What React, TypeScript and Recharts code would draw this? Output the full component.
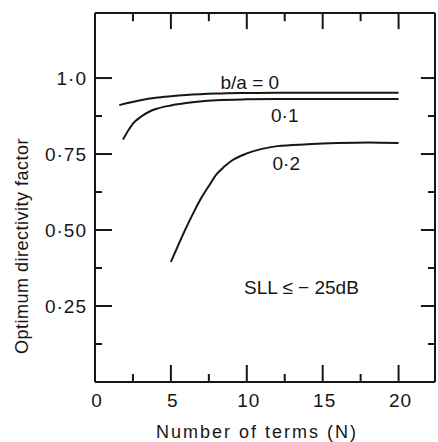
import { LineChart, Line, XAxis, YAxis, ReferenceDot, ReferenceLine } from 'recharts';

// b/a = 0
const N_BA0 = [1.6, 2, 3, 4, 5, 6, 8, 10, 12, 15, 20];
const D_BA0 = [0.911, 0.916, 0.927, 0.935, 0.94, 0.944, 0.949, 0.951, 0.952, 0.952, 0.952];

// b/a = 0.1
const N_BA1 = [1.85, 2.2, 2.5, 3, 3.6, 4, 5, 6, 8, 10, 12, 15, 20];
const D_BA1 = [0.798, 0.828, 0.85, 0.872, 0.89, 0.898, 0.91, 0.918, 0.927, 0.93, 0.931, 0.931, 0.931];

// b/a = 0.2
const N_BA2 = [5, 5.5, 6, 6.5, 7, 7.5, 8, 8.5, 9, 10, 11, 12, 14, 16, 18, 20];
const D_BA2 = [0.395, 0.452, 0.507, 0.558, 0.605, 0.645, 0.683, 0.708, 0.728, 0.752, 0.767, 0.776, 0.782, 0.786, 0.788, 0.786];

const X_TICKS = [0, 2.5, 5, 7.5, 10, 12.5, 15, 17.5, 20];
const X_MAJOR = [0, 5, 10, 15, 20];
const Y_TICKS = [0.125, 0.25, 0.375, 0.5, 0.625, 0.75, 0.875, 1];
const Y_MAJOR = [0.25, 0.5, 0.75, 1];
const Y_LABELS = ['0·25', '0·50', '0·75', '1·0'];

const CURVE_LABELS = [
  { n: 10.2, d: 0.987, text: 'b/a = 0' },
  { n: 12.5, d: 0.878, text: '0·1' },
  { n: 12.6, d: 0.72, text: '0·2' },
  { n: 13.6, d: 0.312, text: 'SLL ≤ − 25dB' },
];

const X_MAX = 22.4;
const Y_MAX = 1.214;

const toPoints = (xs: number[], ys: number[]) => xs.map((n, i) => ({ n, d: ys[i] }));

const INK = '#161616';
const FONT = '"Liberation Sans", Arial, sans-serif';

// mirrored tick lengths on the top/right frame, in data units (~16/8 px and ~14/7 px)
const TOP_MAJOR = 0.053;
const TOP_MINOR = 0.027;
const RIGHT_MAJOR = 0.93;
const RIGHT_MINOR = 0.46;

function BottomTick({ x, y, payload }: any) {
  const major = X_MAJOR.includes(payload.value);
  return (
    <g>
      <line x1={x} y1={y} x2={x} y2={y - (major ? 17 : 8)} stroke={INK} strokeWidth={2} />
      {major && (
        <text x={x + 2} y={y + 25} textAnchor="middle" fontSize={19} fontFamily={FONT} fill={INK} letterSpacing={1}>
          {payload.value}
        </text>
      )}
    </g>
  );
}

function LeftTick({ x, y, payload }: any) {
  const idx = Y_MAJOR.indexOf(payload.value);
  const major = idx >= 0;
  return (
    <g>
      <line x1={x} y1={y} x2={x + (major ? 17 : 7)} y2={y} stroke={INK} strokeWidth={2} />
      {major && (
        <text x={x - 8} y={y + 7} textAnchor="end" fontSize={19} fontFamily={FONT} fill={INK} letterSpacing={1}>
          {Y_LABELS[idx]}
        </text>
      )}
    </g>
  );
}

export default function App() {
  return (
    <div style={{ position: 'absolute', left: 0, top: 0, background: '#fff' }}>
      <LineChart width={438} height={442} margin={{ top: 13, right: 3, bottom: 0, left: 0 }}>
        <XAxis
          xAxisId="b"
          dataKey="n"
          type="number"
          domain={[0, X_MAX]}
          ticks={X_TICKS}
          interval={0}
          tickSize={0}
          tickMargin={0}
          height={60}
          tickLine={false}
          axisLine={{ stroke: INK, strokeWidth: 2 }}
          tick={<BottomTick />}
          allowDataOverflow
          label={{
            content: () => (
              <text x={257} y={438} textAnchor="middle" fontSize={18} fontFamily={FONT} fill={INK} letterSpacing={2}>
                Number of terms (N)
              </text>
            ),
          }}
        />
        <YAxis
          yAxisId="l"
          type="number"
          domain={[0, Y_MAX]}
          ticks={Y_TICKS}
          interval={0}
          tickSize={0}
          tickMargin={0}
          width={95}
          tickLine={false}
          axisLine={{ stroke: INK, strokeWidth: 2 }}
          tick={<LeftTick />}
          allowDataOverflow
          label={{
            content: () => (
              <text
                x={22}
                y={246}
                transform="rotate(-90 22 246)"
                textAnchor="middle"
                dominantBaseline="central"
                fontSize={18}
                fontFamily={FONT}
                fill={INK}
                letterSpacing={0.5}
              >
                Optimum directivity factor
              </text>
            ),
          }}
        />

        {/* top and right frame */}
        <ReferenceLine xAxisId="b" yAxisId="l" y={Y_MAX} stroke={INK} strokeWidth={2} ifOverflow="visible" />
        <ReferenceLine xAxisId="b" yAxisId="l" x={X_MAX} stroke={INK} strokeWidth={2} ifOverflow="visible" />

        {X_TICKS.filter((t) => t > 0).map((t) => (
          <ReferenceLine
            key={`tx${t}`}
            xAxisId="b"
            yAxisId="l"
            segment={[
              { x: t, y: Y_MAX },
              { x: t, y: Y_MAX - (X_MAJOR.includes(t) ? TOP_MAJOR : TOP_MINOR) },
            ]}
            stroke={INK}
            strokeWidth={2}
            ifOverflow="visible"
          />
        ))}
        {Y_TICKS.map((t) => (
          <ReferenceLine
            key={`ty${t}`}
            xAxisId="b"
            yAxisId="l"
            segment={[
              { x: X_MAX, y: t },
              { x: X_MAX - (Y_MAJOR.includes(t) ? RIGHT_MAJOR : RIGHT_MINOR), y: t },
            ]}
            stroke={INK}
            strokeWidth={2}
            ifOverflow="visible"
          />
        ))}

        <Line
          xAxisId="b"
          yAxisId="l"
          data={toPoints(N_BA0, D_BA0)}
          dataKey="d"
          type="monotone"
          stroke={INK}
          strokeWidth={2}
          dot={false}
          isAnimationActive={false}
        />
        <Line
          xAxisId="b"
          yAxisId="l"
          data={toPoints(N_BA1, D_BA1)}
          dataKey="d"
          type="monotone"
          stroke={INK}
          strokeWidth={2}
          dot={false}
          isAnimationActive={false}
        />
        <Line
          xAxisId="b"
          yAxisId="l"
          data={toPoints(N_BA2, D_BA2)}
          dataKey="d"
          type="monotone"
          stroke={INK}
          strokeWidth={2}
          dot={false}
          isAnimationActive={false}
        />
        {CURVE_LABELS.map((c) => (
          <ReferenceDot
            key={c.text}
            xAxisId="b"
            yAxisId="l"
            x={c.n}
            y={c.d}
            r={0}
            fill="none"
            stroke="none"
            label={{ value: c.text, position: 'center', fontSize: 19, fontFamily: FONT, fill: INK }}
          />
        ))}
      </LineChart>
    </div>
  );
}
